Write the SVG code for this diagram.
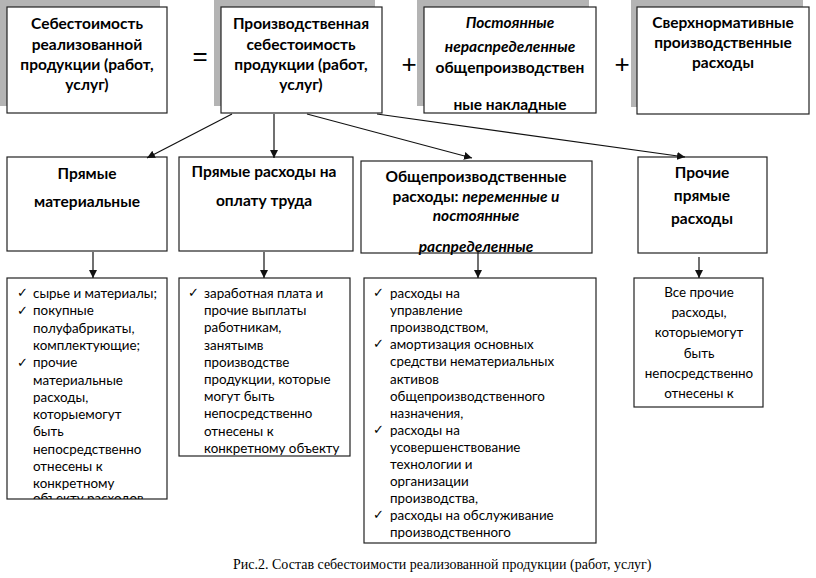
<svg xmlns="http://www.w3.org/2000/svg" width="816" height="578" viewBox="0 0 816 578">
<style>
.box{fill:#fff;stroke:#222;stroke-width:1.2}
.sh{fill:#b4b4b4}
.b{font-family:Lato,"Liberation Sans",sans-serif;font-weight:bold;font-size:15.5px;fill:#000;text-anchor:middle}
.bi{font-style:italic}
.r{font-family:Lato,"Liberation Sans",sans-serif;font-size:13.4px;fill:#000}
.c{font-family:"DejaVu Sans",sans-serif;font-size:13px;fill:#000}
.op{font-family:"Liberation Sans",sans-serif;font-size:26px;fill:#000;text-anchor:middle}
.cap{font-family:"Liberation Serif",serif;font-size:14px;fill:#000}
.ln{stroke:#111;stroke-width:1.2;fill:none}
</style>
<defs>
<marker id="ah" viewBox="0 0 10 10" refX="10" refY="5" markerWidth="8" markerHeight="8" markerUnits="userSpaceOnUse" orient="auto">
<path d="M0,0L10,5L0,10z" fill="#111"/>
</marker>
<clipPath id="cA2"><rect x="7" y="278" width="160" height="221"/></clipPath>
<clipPath id="cC"><rect x="361" y="161" width="231" height="94"/></clipPath>
<clipPath id="cC2"><rect x="364" y="278" width="232" height="267"/></clipPath>
</defs>
<rect width="816" height="578" fill="#fff"/>

<g id="n-total">
<rect class="sh" x="0" y="0" width="160" height="106"/>
<rect class="box" x="7" y="7" width="160" height="106"/>
<text class="b" x="87" y="29">Себестоимость</text>
<text class="b" x="87" y="50">реализованной</text>
<text class="b" x="87" y="70">продукции (работ,</text>
<text class="b" x="87" y="90">услуг)</text>
</g>
<text class="op" x="200" y="65">=</text>
<g id="n-prod">
<rect class="sh" x="214" y="0" width="161" height="106"/>
<rect class="box" x="221" y="7" width="161" height="106"/>
<text class="b" x="301" y="29">Производственная</text>
<text class="b" x="301" y="50">себестоимость</text>
<text class="b" x="301" y="70">продукции (работ,</text>
<text class="b" x="301" y="90">услуг)</text>
</g>
<text class="op" x="409" y="73">+</text>
<g id="n-const">
<rect class="sh" x="417" y="0" width="172" height="106"/>
<rect class="box" x="424" y="7" width="172" height="106"/>
<text class="b bi" x="510" y="28">Постоянные</text>
<text class="b bi" x="510" y="52">нераспределенные</text>
<text class="b" x="510" y="73">общепроизводствен</text>
<text class="b" x="510" y="110">ные накладные</text>
</g>
<text class="op" x="622" y="73">+</text>
<g id="n-over">
<rect class="sh" x="631" y="0" width="172" height="107"/>
<rect class="box" x="637" y="7" width="172" height="107"/>
<text class="b" x="723" y="28">Сверхнормативные</text>
<text class="b" x="723" y="48">производственные</text>
<text class="b" x="723" y="68">расходы</text>
</g>

<g id="n-mat">
<rect class="box" x="7" y="157" width="160" height="94"/>
<text class="b" x="87" y="179">Прямые</text>
<text class="b" x="87" y="207">материальные</text>
</g>
<g id="n-lab">
<rect class="box" x="179" y="157" width="174" height="94"/>
<text class="b" x="264" y="177">Прямые расходы на</text>
<text class="b" x="264" y="206">оплату труда</text>
</g>
<g id="n-gen">
<rect class="box" x="361" y="161" width="231" height="92"/>
<text class="b" x="476" y="182">Общепроизводственные</text>
<text class="b" x="476" y="202">расходы: <tspan class="bi">переменные и</tspan></text>
<text class="b bi" x="476" y="221">постоянные</text>
<text class="b bi" x="476" y="252" clip-path="url(#cC)">распределенные</text>
</g>
<g id="n-oth">
<rect class="box" x="638" y="157" width="129" height="96"/>
<text class="b" x="702" y="178">Прочие</text>
<text class="b" x="702" y="201">прямые</text>
<text class="b" x="702" y="224">расходы</text>
</g>

<g id="n-mat-list">
<rect class="box" x="7" y="278" width="160" height="221"/>
<g class="c"><text x="17" y="297">✓</text><text x="17" y="315">✓</text><text x="17" y="367">✓</text></g>
<g class="r" clip-path="url(#cA2)">
<text x="33" y="298">сырье и материалы;</text>
<text x="33" y="315.3">покупные</text>
<text x="33" y="332.6">полуфабрикаты,</text>
<text x="33" y="349.9">комплектующие;</text>
<text x="33" y="367.2">прочие</text>
<text x="33" y="384.5">материальные</text>
<text x="33" y="401.8">расходы,</text>
<text x="33" y="419.1">которыемогут</text>
<text x="33" y="436.4">быть</text>
<text x="33" y="453.7">непосредственно</text>
<text x="33" y="471">отнесены к</text>
<text x="33" y="488.3">конкретному</text>
<text x="33" y="503">объекту расходов</text>
</g>
</g>
<g id="n-lab-list">
<rect class="box" x="179" y="278" width="171" height="178"/>
<text class="c" x="188" y="297">✓</text>
<g class="r">
<text x="204" y="298">заработная плата и</text>
<text x="204" y="315.2">прочие выплаты</text>
<text x="204" y="332.4">работникам,</text>
<text x="204" y="349.6">занятымв</text>
<text x="204" y="366.8">производстве</text>
<text x="204" y="384">продукции, которые</text>
<text x="204" y="401.2">могут быть</text>
<text x="204" y="418.4">непосредственно</text>
<text x="204" y="435.6">отнесены к</text>
<text x="204" y="452.8">конкретному объекту</text>
</g>
</g>
<g id="n-gen-list">
<rect class="box" x="364" y="278" width="232" height="265"/>
<g class="c"><text x="373" y="297">✓</text><text x="373" y="348">✓</text><text x="373" y="434">✓</text><text x="373" y="519">✓</text></g>
<g class="r" clip-path="url(#cC2)">
<text x="390" y="298">расходы на</text>
<text x="390" y="315.1">управление</text>
<text x="390" y="332.2">производством,</text>
<text x="390" y="349.3">амортизация основных</text>
<text x="390" y="366.4">средстви нематериальных</text>
<text x="390" y="383.5">активов</text>
<text x="390" y="400.6">общепроизводственного</text>
<text x="390" y="417.7">назначения,</text>
<text x="390" y="434.8">расходы на</text>
<text x="390" y="451.9">усовершенствование</text>
<text x="390" y="469">технологии и</text>
<text x="390" y="486.1">организации</text>
<text x="390" y="503.2">производства,</text>
<text x="390" y="520.3">расходы на обслуживание</text>
<text x="390" y="537.4">производственного</text>
</g>
</g>
<g id="n-oth-list">
<rect class="box" x="634" y="278" width="129" height="129"/>
<g class="r" text-anchor="middle">
<text x="699" y="297">Все прочие</text>
<text x="699" y="317.2">расходы,</text>
<text x="699" y="337.4">которыемогут</text>
<text x="699" y="357.6">быть</text>
<text x="699" y="377.8">непосредственно</text>
<text x="699" y="398">отнесены к</text>
</g>
</g>

<g id="connectors">
<line class="ln" x1="232" y1="114" x2="147" y2="158" marker-end="url(#ah)"/>
<line class="ln" x1="274" y1="114" x2="274" y2="158" marker-end="url(#ah)"/>
<line class="ln" x1="307" y1="114" x2="472" y2="158" marker-end="url(#ah)"/>
<line class="ln" x1="377" y1="114" x2="685" y2="157" marker-end="url(#ah)"/>
<line class="ln" x1="93" y1="252" x2="93" y2="278" marker-end="url(#ah)"/>
<line class="ln" x1="264" y1="252" x2="264" y2="278" marker-end="url(#ah)"/>
<line class="ln" x1="478" y1="250" x2="478" y2="278" marker-end="url(#ah)"/>
<line class="ln" x1="699" y1="257" x2="699" y2="278" marker-end="url(#ah)"/>
</g>

<text class="cap" x="233" y="569">Рис.2. Состав себестоимости реализованной продукции (работ, услуг)</text>
</svg>
